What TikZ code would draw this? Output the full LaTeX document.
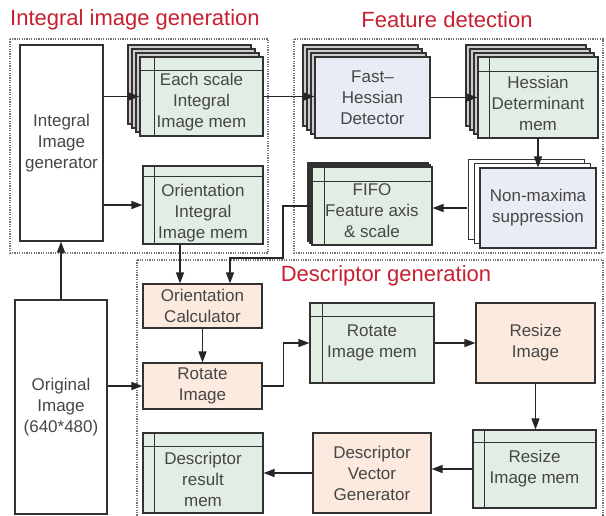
\documentclass[tikz,border=0pt]{standalone}
\usepackage{fontspec}
\setmainfont{Liberation Sans}
\usepackage{tikz}
\usetikzlibrary{arrows.meta,shadows,positioning}
\definecolor{memgreen}{RGB}{226,238,228}
\definecolor{peach}{RGB}{252,234,222}
\definecolor{bluegray}{RGB}{233,236,244}
\definecolor{titlered}{RGB}{200,32,48}
\definecolor{txtgray}{RGB}{70,70,70}
\definecolor{boxline}{RGB}{50,50,50}
\tikzstyle{blk} = [draw=boxline, line width=1.1pt, rectangle, align=center, text=txtgray, font=\fontsize{17}{21}\selectfont, inner sep=0pt]
\tikzstyle{mem} = [blk, fill=memgreen]
\tikzstyle{calc} = [blk, fill=peach]
\tikzstyle{detect} = [blk, fill=bluegray]
\tikzstyle{plain} = [blk, fill=white]
\tikzstyle{memtxt} = [align=center, text=txtgray, font=\fontsize{17}{21}\selectfont, inner sep=0pt]
\tikzstyle{stack} = [copy shadow={shadow xshift=-12pt, shadow yshift=12pt, fill=gray!40}, copy shadow={shadow xshift=-8pt, shadow yshift=8pt, fill=gray!40}, copy shadow={shadow xshift=-4pt, shadow yshift=4pt, fill=gray!40}]
\tikzstyle{paper} = [copy shadow={shadow xshift=-12pt, shadow yshift=9pt, fill=white, line width=0.8pt}, copy shadow={shadow xshift=-6pt, shadow yshift=4.5pt, fill=white, line width=0.8pt}]
\tikzstyle{fifoshadow} = [copy shadow={shadow xshift=-4pt, shadow yshift=4pt, fill=black!55}, copy shadow={shadow xshift=-2pt, shadow yshift=2pt, fill=black!55}]
\tikzstyle{frame} = [draw=black!55, line width=1.2pt, dash pattern=on 1.2pt off 1.2pt]
\tikzstyle{title} = [text=titlered, font=\fontsize{22}{26}\selectfont, inner sep=0pt]
\tikzstyle{memline} = [draw=boxline, line width=1.1pt]
\tikzstyle{arr} = [line width=1.3pt, draw=black!85, -{Triangle[length=11pt,width=8pt]}]
% header strip of a memory box: node, header height, left strip width
\newcommand{\memlines}[3]{%
  \draw[memline] ([yshift=-#2pt]#1.north west) -- ([yshift=-#2pt]#1.north east);
  \draw[memline] ([xshift=#3pt]#1.north west) -- ([xshift=#3pt]#1.south west);}

\begin{document}
\begin{tikzpicture}[x=1pt,y=-1pt]
\useasboundingbox (0,0) rectangle (606,515);
\fill[white] (0,0) rectangle (606,515);

% group frames
\draw[frame] (10,39) rectangle (268,253);
\draw[frame] (294,39) rectangle (603,253);
\draw[frame] (137,260) rectangle (603,522);

\node[title, anchor=west] (t-int) at (10,20) {Integral image generation};
\node[title] (t-feat) at (447,20) {Feature detection};
\node[title] (t-desc) at (386,276) {Descriptor generation};

% integral image generation
\node[plain, minimum width=83, minimum height=196] (gen) at (61.5,143) {Integral\\Image\\generator};
\node[mem, stack, minimum width=123, minimum height=79] (esm) at (201.5,96.5) {};
\memlines{esm}{14}{15}
\node[memtxt] (esm-t) at ([yshift=-6pt]esm.center) {Each scale\\Integral\\Image mem};
\node[mem, minimum width=120, minimum height=78] (oim) at (203,205) {};
\memlines{oim}{11}{12}
\node[memtxt] (oim-t) at ([yshift=-8pt]oim.center) {Orientation\\Integral\\Image mem};

% feature detection
\node[detect, stack, minimum width=115, minimum height=81] (fh) at (372.5,97.5) {Fast–\\Hessian\\Detector};
\node[mem, stack, minimum width=120, minimum height=81] (hdm) at (538,97.5) {};
\memlines{hdm}{15}{12}
\node[memtxt] (hdm-t) at ([yshift=-6pt]hdm.center) {Hessian\\Determinant\\mem};
\node[detect, paper, minimum width=116, minimum height=80] (nms) at (538,208) {Non-maxima\\suppression};
\node[mem, fifoshadow, minimum width=120, minimum height=78] (fifo) at (372,206) {};
\memlines{fifo}{15}{13}
\node[memtxt] (fifo-t) at ([yshift=-5pt]fifo.center) {FIFO\\Feature axis\\\& scale};

% descriptor generation
\node[plain, minimum width=92, minimum height=214] (orig) at (61,407) {Original\\Image\\(640*480)};
\node[calc, minimum width=119, minimum height=44] (oc) at (202.5,306) {Orientation\\Calculator};
\node[calc, minimum width=119, minimum height=46] (ri) at (202.5,386) {Rotate\\Image};
\node[mem, minimum width=124, minimum height=80] (rim) at (372,343) {};
\memlines{rim}{14}{13}
\node[memtxt] (rim-t) at (rim.center) {Rotate\\Image mem};
\node[calc, minimum width=119, minimum height=80] (rs) at (535.5,343) {Resize\\Image};
\node[mem, minimum width=123, minimum height=78] (rsm) at (534.5,469) {};
\memlines{rsm}{13}{12}
\node[memtxt] (rsm-t) at (rsm.center) {Resize\\Image mem};
\node[calc, minimum width=118, minimum height=80] (dvg) at (372,473) {Descriptor\\Vector\\Generator};
\node[mem, minimum width=120, minimum height=80] (drm) at (203,473) {};
\memlines{drm}{14}{12}
\node[memtxt] (drm-t) at ([yshift=-6pt]drm.center) {Descriptor\\result\\mem};

% connections
\coordinate (fifo-bend) at (283,258);
\draw[arr] (gen.east |- esm.west) -- (esm.west);
\draw[arr] (gen.east |- oim.west) -- (oim.west);
\draw[arr] (esm.east) -- (esm.east -| fh.west);
\draw[arr] (fh.east) -- (hdm.west);
\draw[arr] (hdm.south) -- (nms.north);
\draw[arr] ([xshift=-12pt]nms.west) -- (nms.west -| fifo.east);
\draw[arr] (fifo.west) -| (fifo-bend) -| ([xshift=27.5pt]oc.north);
\draw[arr] ([xshift=-23pt]oim.south) -- ([xshift=-22.5pt]oc.north);
\draw[arr] (orig.north) -- (orig.north |- gen.south);
\draw[arr] (oc.south) -- (ri.north);
\draw[arr] (orig.east |- ri.west) -- (ri.west);
\draw[arr] (ri.east) -- ++(21,0) |- (rim.west);
\draw[arr] (rim.east) -- (rs.west);
\draw[arr] (rs.south) -- (rs.south |- rsm.north);
\draw[arr] (rsm.west) -- (rsm.west -| dvg.east);
\draw[arr] (dvg.west) -- (drm.east);
\end{tikzpicture}
\end{document}
